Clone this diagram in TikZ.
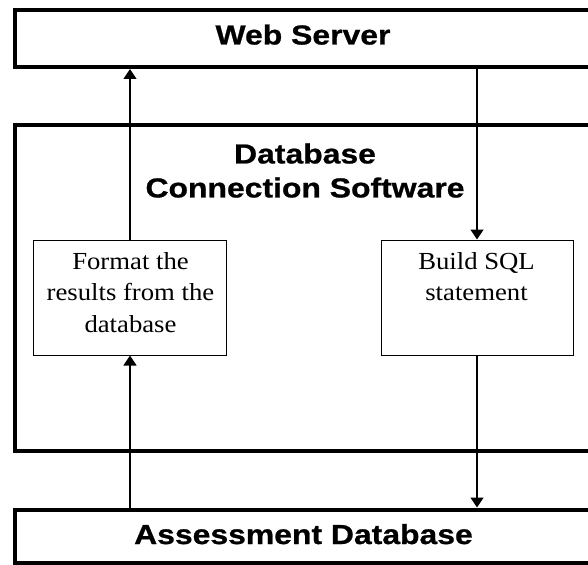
\documentclass[tikz,border=0pt]{standalone}
\usepackage{fontspec}
\usetikzlibrary{arrows.meta,calc}
\newfontfamily\hvb[FakeStretch=1.16,FakeBold=0.8]{Liberation Sans}
\newfontfamily\tms[FakeStretch=1.09]{Liberation Serif}
\tikzset{
  outerbox/.style={draw, line width=4bp, minimum width=578bp, inner sep=0pt},
  innerbox/.style={draw, line width=1bp, minimum width=192bp, minimum height=115bp, inner sep=0pt},
  headtext/.style={font=\hvb\bfseries\fontsize{27.5bp}{34bp}\selectfont, inner sep=0pt, align=center},
  bodytext/.style={font=\tms\fontsize{24.5bp}{31.8bp}\selectfont, inner sep=0pt, align=center},
  arr/.style={line width=1.3bp, -{Triangle[length=10bp,width=13bp]}}
}
\begin{document}
\begin{tikzpicture}[x=1bp,y=-1bp]
\useasboundingbox (0,0) rectangle (588,565);
\clip (0,0) rectangle (588,565);
% outer boxes
\node[outerbox, minimum height=56.5bp] (web) at (304,38.75) {};
\node[outerbox, minimum height=325bp] (dbc) at (304,288) {};
\node[outerbox, minimum height=53.5bp] (adb) at (304,536.25) {};
% inner boxes
\node[innerbox] (fmt) at (130,297.5) {};
\node[innerbox] (sql) at (477,297.5) {};
% texts
\node[headtext, anchor=base] (webt) at (303,44.5) {Web Server};
\node[headtext, anchor=north] (dbct) at (305,143.3) {Database\\Connection Software};
\node[headtext, anchor=base] (adbt) at (303.5,544) {Assessment Database};
\node[bodytext, anchor=north] (fmtt) at (130.5,251.8) {Format the\\results from the\\database};
\node[bodytext, anchor=north] (sqlt) at (476.5,251.8) {Build SQL\\statement};
% connectors
\draw[arr] (fmt.north) -- (web.south -| fmt.north);
\draw[arr] (adb.north -| fmt.south) -- (fmt.south);
\draw[arr] (web.south -| sql.north) -- (sql.north);
\draw[arr] (sql.south) -- (adb.north -| sql.south);
\end{tikzpicture}
\end{document}
